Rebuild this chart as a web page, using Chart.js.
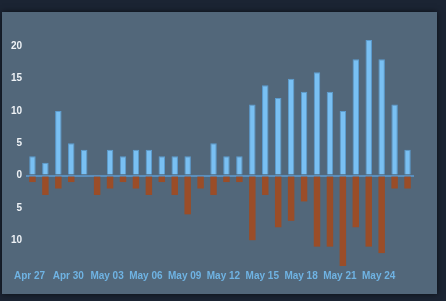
<!DOCTYPE html>
<html>
<head>
<meta charset="utf-8">
<script src="https://cdn.jsdelivr.net/npm/chart.js@4"></script>
<style>
html,body{margin:0;padding:0;background:#1b2433;width:446px;height:301px;overflow:hidden;}
#panel{position:absolute;left:2px;top:12px;width:435px;height:282px;background:#52677a;box-shadow:0 0 6px rgba(0,0,0,0.6);}
#c{display:block;}
</style>
</head>
<body>
<div id="panel"><canvas id="c" width="435" height="282"></canvas></div>
<script>
const categories = ['Apr 27','Apr 28','Apr 29','Apr 30','May 01','May 02','May 03','May 04','May 05','May 06',
  'May 07','May 08','May 09','May 10','May 11','May 12','May 13','May 14','May 15','May 16',
  'May 17','May 18','May 19','May 20','May 21','May 22','May 23','May 24','May 25','May 26'];
const positiveValues = [3,2,10,5,4,0,4,3,4,4,3,3,3,0,5,3,3,11,14,12,15,13,16,13,10,18,21,18,11,4];
const negativeValues = [1,3,2,1,0,3,2,1,2,3,1,3,6,2,3,1,1,10,3,8,7,4,11,11,14,8,11,12,2,2];
const yTickValues = [-10,-5,0,5,10,15,20];
const labelEvery = 3;

const font = {family:'"Liberation Sans", Arial, sans-serif', size:10, weight:'bold'};

new Chart(document.getElementById('c'), {
  type:'bar',
  data:{
    labels:categories,
    datasets:[
      {data:positiveValues, backgroundColor:'#79c0f3', borderColor:'#5c9dd0', borderWidth:1,
       barPercentage:0.5, categoryPercentage:1.0},
      {data:negativeValues.map(v=>-v), backgroundColor:'#9a4d28', borderWidth:0,
       barPercentage:0.5, categoryPercentage:1.0}
    ]
  },
  options:{
    responsive:false, animation:false,
    layout:{padding:{left:0,right:23,top:28,bottom:0}},
    plugins:{legend:{display:false}, tooltip:{enabled:false}},
    scales:{
      x:{
        stacked:true,
        grid:{display:false, drawTicks:false},
        border:{display:false},
        ticks:{
          autoSkip:false, maxRotation:0, color:'#6fb3e3', font:font, padding:4, labelOffset:-3,
          callback:function(v,i){ return i % labelEvery === 0 ? categories[i] : ''; }
        },
        afterFit:function(s){ s.height = 28; }
      },
      y:{
        stacked:true, min:-14, max:21,
        afterBuildTicks:function(s){ s.ticks = yTickValues.map(v=>({value:v})); },
        afterFit:function(s){ s.width = 24; },
        border:{display:false},
        grid:{drawTicks:false, lineWidth:2,
          color:function(ctx){ return ctx.tick && ctx.tick.value===0 ? '#5b8fbd' : 'rgba(0,0,0,0)'; }},
        ticks:{color:'#eef2f6', font:font, padding:4,
          callback:function(v){ return Math.abs(v); }}
      }
    }
  }
});
</script>
</body>
</html>
